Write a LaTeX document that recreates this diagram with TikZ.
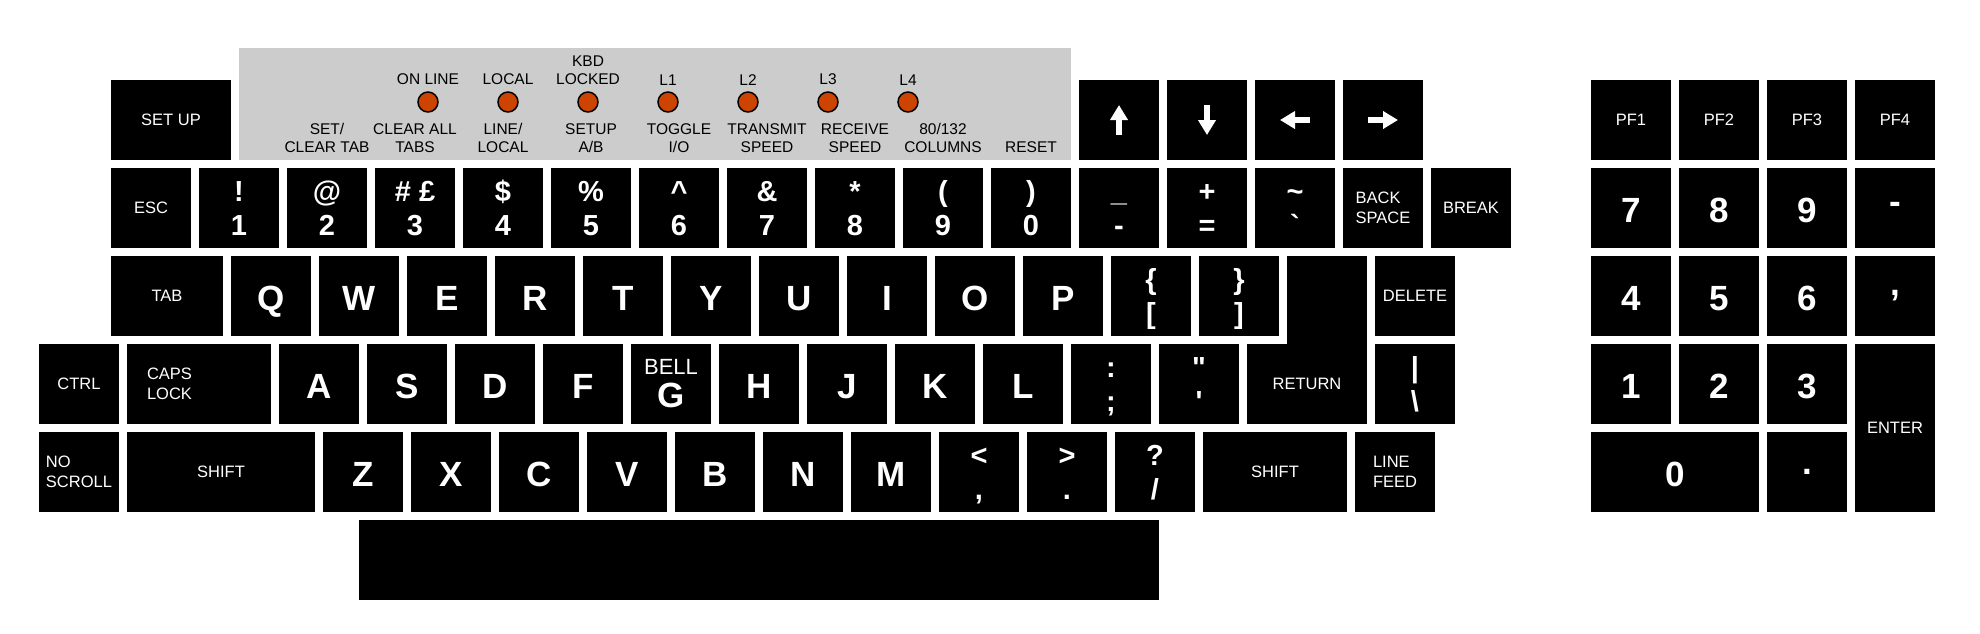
\documentclass[tikz,border=0pt]{standalone}
\usepackage{fontspec}
\setmainfont{Liberation Sans}
\usetikzlibrary{positioning,arrows.meta}
\definecolor{ledred}{HTML}{CC4400}
\definecolor{panelgray}{HTML}{CCCCCC}
\newcommand{\keyfont}{\fontsize{16.5}{20}\selectfont}
\newcommand{\panelfont}{\fontsize{15.5}{18}\selectfont}
\newcommand{\symfont}{\bfseries\fontsize{29}{34}\selectfont}
\newcommand{\letterfont}{\bfseries\fontsize{35}{40}\selectfont}
\begin{document}
\begin{tikzpicture}[x=1pt,y=-1pt,
  key/.style={fill=black,text=white,minimum width=80pt,minimum height=80pt,inner sep=0pt,align=center,font=\keyfont},
  symkey/.style={key,font=\symfont,text height=54.8pt,text depth=0pt},
  padkey/.style={key,font=\letterfont},
  letterkey/.style={padkey,text height=28pt,text depth=0pt},
  led/.style={circle,draw=black,line width=1.5pt,fill=ledred,minimum size=20pt,inner sep=0pt},
  panellabel/.style={inner sep=0pt,align=center,font=\panelfont},
  arrowline/.style={white,line width=6pt,-{Triangle[length=15pt,width=17pt]}}]
\useasboundingbox (0,0) rectangle (1980,633);
\fill [panelgray] (239,48) rectangle (1071,160);
\node [key,minimum width=120pt] (setup) at (171,120) {SET UP};
\node [key] (up) at (1119,120) {};
\node [key] (down) at (1207,120) {};
\node [key] (left) at (1295,120) {};
\node [key] (right) at (1383,120) {};
\draw [arrowline] ([yshift=-15pt]up.center) -- ([yshift=15pt]up.center);
\draw [arrowline] ([yshift=15pt]down.center) -- ([yshift=-15pt]down.center);
\draw [arrowline] ([xshift=15pt]left.center) -- ([xshift=-15pt]left.center);
\draw [arrowline] ([xshift=-15pt]right.center) -- ([xshift=15pt]right.center);
\node [key] (pf1) at (1631,120) {PF1};
\node [key] (pf2) at (1719,120) {PF2};
\node [key] (pf3) at (1807,120) {PF3};
\node [key] (pf4) at (1895,120) {PF4};
\node [key] (esc) at (151,208) {ESC};
\node [symkey] (k1) at (239,208) {!\\1};
\node [symkey] (k2) at (327,208) {@\\2};
\node [symkey] (k3) at (415,208) {\# £\\3};
\node [symkey] (k4) at (503,208) {\$\\4};
\node [symkey] (k5) at (591,208) {\%\\5};
\node [symkey] (k6) at (679,208) {\textasciicircum\\6};
\node [symkey] (k7) at (767,208) {\&\\7};
\node [symkey] (k8) at (855,208) {*\\8};
\node [symkey] (k9) at (943,208) {(\\9};
\node [symkey] (k0) at (1031,208) {)\\0};
\node [symkey] (minus) at (1119,208) {\_\\-};
\node [symkey] (equal) at (1207,208) {+\\=};
\node [symkey] (tilde) at (1295,208) {\textasciitilde\\\textasciigrave};
\node [key,align=left] (backspace) at (1383,208) {BACK\\SPACE};
\node [key] (break) at (1471,208) {BREAK};
\node [letterkey] (pad7) at (1631,208) {7};
\node [letterkey] (pad8) at (1719,208) {8};
\node [letterkey] (pad9) at (1807,208) {9};
\node [padkey] (padminus) at (1895,208) {-};
\node [key,minimum width=112pt] (tab) at (167,296) {TAB};
\node [letterkey] (q) at (271,296) {Q};
\node [letterkey] (w) at (359,296) {W};
\node [letterkey] (e) at (447,296) {E};
\node [letterkey] (r) at (535,296) {R};
\node [letterkey] (t) at (623,296) {T};
\node [letterkey] (y) at (711,296) {Y};
\node [letterkey] (u) at (799,296) {U};
\node [letterkey] (i) at (887,296) {I};
\node [letterkey] (o) at (975,296) {O};
\node [letterkey] (p) at (1063,296) {P};
\node [symkey] (lbrace) at (1151,296) {\{\\{[}};
\node [symkey] (rbrace) at (1239,296) {\}\\{]}};
\node [key] (delete) at (1415,296) {DELETE};
\node [letterkey] (pad4) at (1631,296) {4};
\node [letterkey] (pad5) at (1719,296) {5};
\node [letterkey] (pad6) at (1807,296) {6};
\node [padkey] (padcomma) at (1895,296) {,};
\node [key] (ctrl) at (79,384) {CTRL};
\node [key,minimum width=144pt,text width=104pt,align=left] (capslock) at (199,384) {CAPS\\LOCK};
\node [letterkey] (a) at (319,384) {A};
\node [letterkey] (s) at (407,384) {S};
\node [letterkey] (d) at (495,384) {D};
\node [letterkey] (f) at (583,384) {F};
\node [padkey] (g) at (671,384) {{\mdseries\fontsize{22}{24}\selectfont BELL}\\[-7pt]G};
\node [letterkey] (h) at (759,384) {H};
\node [letterkey] (j) at (847,384) {J};
\node [letterkey] (k) at (935,384) {K};
\node [letterkey] (l) at (1023,384) {L};
\node [symkey] (semicolon) at (1111,384) {:\\;};
\node [symkey] (quote) at (1199,384) {\textquotedbl\\\textquotesingle};
\node [key,minimum width=120pt] (return) at (1307,384) {RETURN};
\fill (1287,256) rectangle (return.north east);
\node [symkey] (backslash) at (1415,384) {\textbar\\\textbackslash};
\node [letterkey] (pad1) at (1631,384) {1};
\node [letterkey] (pad2) at (1719,384) {2};
\node [letterkey] (pad3) at (1807,384) {3};
\node [key,minimum height=168pt] (enter) at (1895,428) {ENTER};
\node [key,align=left] (noscroll) at (79,472) {NO\\SCROLL};
\node [key,minimum width=188pt] (lshift) at (221,472) {SHIFT};
\node [letterkey] (z) at (363,472) {Z};
\node [letterkey] (x) at (451,472) {X};
\node [letterkey] (c) at (539,472) {C};
\node [letterkey] (v) at (627,472) {V};
\node [letterkey] (b) at (715,472) {B};
\node [letterkey] (n) at (803,472) {N};
\node [letterkey] (m) at (891,472) {M};
\node [symkey] (less) at (979,472) {<\\,};
\node [symkey] (greater) at (1067,472) {>\\.};
\node [symkey] (slash) at (1155,472) {?\\/};
\node [key,minimum width=144pt] (rshift) at (1275,472) {SHIFT};
\node [key,align=left] (linefeed) at (1395,472) {LINE\\FEED};
\node [letterkey,minimum width=168pt] (pad0) at (1675,472) {0};
\node [padkey] (paddot) at (1807,472) {.};
\node [key,minimum width=800pt] (space) at (759,560) {};
\node [led] (online) at (428,102) {};
\node [led] (local) at (508,102) {};
\node [led] (kbdlocked) at (588,102) {};
\node [led] (l1) at (668,102) {};
\node [led] (l2) at (748,102) {};
\node [led] (l3) at (828,102) {};
\node [led] (l4) at (908,102) {};
\node [panellabel,above=6pt of online] (onlinetext) {ON LINE};
\node [panellabel,above=6pt of local] (localtext) {LOCAL};
\node [panellabel,above=6pt of kbdlocked] (kbdlockedtext) {KBD\\LOCKED};
\node [panellabel,above=6pt of l1] (l1text) {L1};
\node [panellabel,above=6pt of l2] (l2text) {L2};
\node [panellabel,above=6pt of l3] (l3text) {L3};
\node [panellabel,above=6pt of l4] (l4text) {L4};
\node [panellabel,above=14.5pt of k2] (settab) {SET/\\CLEAR TAB};
\node [panellabel,above=14.5pt of k3] (clearall) {CLEAR ALL\\TABS};
\node [panellabel,above=14.5pt of k4] (linelocal) {LINE/\\LOCAL};
\node [panellabel,above=14.5pt of k5] (setupab) {SETUP\\A/B};
\node [panellabel,above=14.5pt of k6] (toggle) {TOGGLE\\I/O};
\node [panellabel,above=14.5pt of k7] (transmit) {TRANSMIT\\SPEED};
\node [panellabel,above=14.5pt of k8] (receive) {RECEIVE\\SPEED};
\node [panellabel,above=14.5pt of k9] (columns) {80/132\\COLUMNS};
\node [panellabel,above=14.5pt of k0] (reset) {RESET};
\end{tikzpicture}
\end{document}
